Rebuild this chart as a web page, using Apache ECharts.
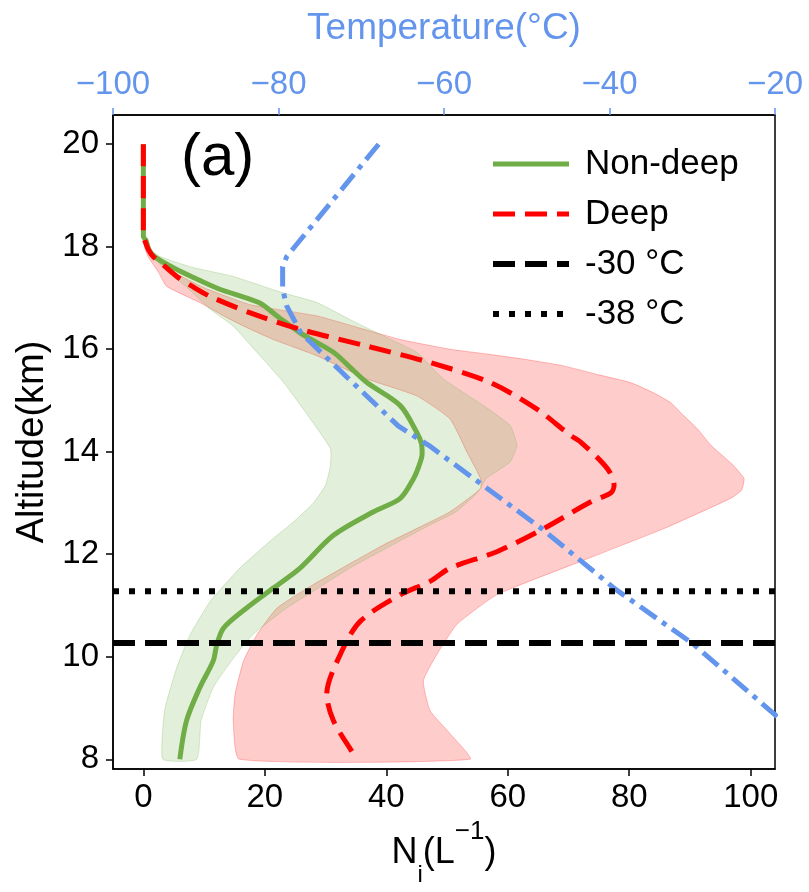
<!DOCTYPE html>
<html>
<head>
<meta charset="utf-8">
<script src="https://cdn.jsdelivr.net/npm/echarts@6/dist/echarts.min.js"></script>
<style>
  html, body { margin: 0; padding: 0; background: #fff; }
  #main { width: 809px; height: 892px; }
</style>
</head>
<body>
<div id="main"></div>
<script>
// axis ticks
const altTicks = [8, 10, 12, 14, 16, 18, 20];
const niTicks = [0, 20, 40, 60, 80, 100];
const tempTicks = [-100, -80, -60, -40, -20];

// mean profiles (Ni in L^-1 vs altitude in km)
const nonDeepAlt = [20, 18.2, 18.13, 17.95, 17.81, 17.65, 17.49, 17.33, 17.17, 16.91, 16.65, 16.32, 15.94, 15.65, 15.35, 14.9, 14.38, 14.15, 13.96, 13.7, 13.48, 13.09, 12.83, 12.37, 11.73, 11.34, 10.95, 10.56, 10.24, 9.92, 9.4, 8.75, 8.0];
const nonDeepNi = [0, 0, 0.4, 0.9, 1.8, 4.0, 6.6, 9.5, 12.6, 19.0, 22.0, 25.8, 31.3, 34.0, 36.8, 42.3, 45.0, 45.8, 45.9, 45.3, 44.5, 42.3, 37.9, 31.3, 25.8, 21.4, 17.0, 13.2, 12.1, 11.5, 9.3, 7.1, 6.0];

const deepAlt = [20, 18.2, 18.13, 17.95, 17.81, 17.62, 17.42, 17.23, 17.03, 16.71, 16.39, 16.06, 15.74, 15.35, 14.83, 14.32, 14.19, 13.67, 13.35, 13.2, 13.02, 12.5, 12.05, 11.73, 11.47, 11.21, 10.69, 10.04, 9.27, 8.75, 8.1, 8.0];
const deepNi = [0, 0, 0.2, 0.8, 1.6, 3.5, 5.5, 8.0, 11.0, 17.6, 25.8, 36.8, 47.2, 57.1, 64.8, 70.3, 72.0, 76.4, 77.5, 77.0, 73.6, 65.9, 58.2, 50.5, 47.2, 42.3, 35.7, 32.4, 30.2, 31.3, 34.6, 35.0];

// spread of the profiles (left and right edges of the shaded ranges)
const nonDeepLoAlt = [18.13, 17.95, 17.75, 17.5, 17.23, 17.0, 16.78, 16.45, 15.94, 15.35, 14.64, 14.06, 13.73, 13.35, 13.0, 12.63, 12.31, 11.73, 11.08, 10.43, 9.79, 8.95, 8.0];
const nonDeepLoNi = [0, 0.5, 2.0, 4.0, 7.0, 9.0, 11.0, 14.8, 18.7, 23.1, 27.5, 30.8, 30.8, 30.0, 28.0, 24.7, 21.4, 15.9, 11.0, 7.7, 5.5, 3.5, 3.2];
const nonDeepHiAlt = [18.13, 17.95, 17.81, 17.6, 17.42, 17.1, 16.91, 16.58, 16.26, 15.94, 15.42, 14.9, 14.51, 14.12, 13.8, 13.48, 13.2, 12.83, 12.56, 12.18, 11.73, 11.34, 10.95, 10.43, 9.92, 9.4, 8.75, 8.0];
const nonDeepHiNi = [0, 1.0, 2.7, 8.0, 14.8, 23.0, 28.6, 34.0, 39.5, 45.0, 49.4, 56.0, 60.4, 61.5, 60.4, 56.5, 55.0, 51.5, 47.0, 41.0, 34.0, 28.8, 23.6, 18.0, 14.5, 11.5, 9.5, 8.8];

const deepLoAlt = [18.13, 17.95, 17.8, 17.5, 17.23, 16.91, 16.6, 16.39, 16.19, 15.87, 15.42, 15.09, 14.64, 13.99, 13.48, 13.28, 12.83, 12.56, 12.18, 11.41, 10.95, 10.43, 9.92, 9.27, 8.75, 8.0];
const deepLoNi = [0, 0.3, 0.8, 2.5, 3.8, 9.3, 14.0, 17.6, 21.4, 28.6, 36.8, 45.0, 50.5, 53.3, 55.5, 55.5, 50.5, 46.0, 39.5, 28.0, 22.0, 18.7, 16.5, 15.1, 14.8, 15.8];
const deepHiAlt = [18.13, 17.95, 17.8, 17.5, 17.2, 16.87, 16.65, 16.4, 16.19, 16.0, 15.9, 15.8, 15.68, 15.5, 15.35, 15.15, 14.96, 14.7, 14.45, 14.12, 13.75, 13.48, 13.25, 13.09, 12.5, 11.86, 11.21, 10.63, 10.04, 9.53, 8.95, 8.5, 8.0];
const deepHiNi = [0, 0.8, 1.5, 5.0, 10.0, 17.6, 28.6, 36.0, 42.3, 50.5, 57.0, 63.0, 69.0, 75.0, 80.2, 84.0, 86.8, 89.0, 91.2, 93.5, 97.0, 98.9, 98.5, 96.7, 85.7, 72.0, 58.2, 51.6, 48.3, 46.1, 47.2, 50.5, 53.8];

// temperature profile (top axis)
const tempAlt = [20.0, 17.81, 17.61, 17.17, 16.84, 16.32, 15.42, 14.5, 14.12, 12.5, 11.32, 10.25, 8.91, 8.0];
const tempC = [-67.9, -79.0, -79.5, -79.5, -79.0, -77.3, -71.5, -65.5, -61.8, -48.2, -39.3, -29.9, -20.3, -13.7];

// isotherm altitudes
const iso30Alt = 10.27;
const iso38Alt = 11.28;

const niMin = -5, niMax = 104;
const FONT = "Liberation Sans";
const BLUE = "#6495ED";
const GREEN = "#70AD47";

const zip = (xs, ys) => xs.map((x, i) => [x, ys[i]]);
const minus = (v) => (v < 0 ? "\u2212" + Math.abs(v) : String(v));

function bandSeries(name, loNi, loAlt, hiNi, hiAlt, fill, edge) {
  return {
    name: name,
    type: "custom",
    coordinateSystem: "cartesian2d",
    silent: true,
    z: 1,
    data: [[loNi[0], loAlt[0]]],
    renderItem: (params, api) => {
      var pts = [];
      for (var i = 0; i < loNi.length; i++) pts.push(api.coord([loNi[i], loAlt[i]]));
      for (var j = hiNi.length - 1; j >= 0; j--) pts.push(api.coord([hiNi[j], hiAlt[j]]));
      return {
        type: "polygon",
        shape: { points: pts, smooth: 0.15 },
        style: { fill: fill, stroke: edge, lineWidth: 1 },
      };
    },
  };
}

var myChart = echarts.init(document.getElementById("main"));

var hideDot = { opacity: 0 };

var option = {
  animation: false,
  textStyle: { fontFamily: FONT },
  grid: {
    left: 113, right: 34, top: 115, bottom: 120,
    show: true, borderColor: "#000", borderWidth: 1.5,
  },
  legend: {
    orient: "vertical",
    left: 485,
    top: 140,
    itemWidth: 76,
    itemHeight: 14,
    itemGap: 12,
    selectedMode: false,
    textStyle: { fontSize: 35, color: "#000", fontFamily: FONT, lineHeight: 38, padding: [0, 0, 0, 11] },
    data: [
      { name: "Non-deep", itemStyle: hideDot, lineStyle: { width: 5, type: "solid" } },
      { name: "Deep", itemStyle: hideDot, lineStyle: { width: 5, type: [22, 10] } },
      { name: "-30 \u00b0C", itemStyle: hideDot, lineStyle: { width: 6, type: [22, 10] } },
      { name: "-38 \u00b0C", itemStyle: hideDot, lineStyle: { width: 6, type: [6, 10] } },
    ],
  },
  graphic: [
    {
      type: "text",
      left: 181,
      top: 128,
      style: { text: "(a)", font: "60px " + FONT, fill: "#000" },
    },
  ],
  xAxis: [
    {
      type: "value",
      position: "bottom",
      min: niMin,
      max: niMax,
      splitLine: { show: false },
      axisLine: { onZero: false, lineStyle: { color: "#000", width: 1.5 } },
      axisTick: { length: 7, lineStyle: { color: "#000", width: 1.5 }, customValues: niTicks },
      axisLabel: { fontSize: 33, color: "#000", margin: 12, customValues: niTicks },
      name: "{n|N}{s|i}{n|(L}{p|\u22121}{n|)}",
      nameLocation: "middle",
      nameGap: 50,
      nameTextStyle: {
        color: "#000",
        rich: {
          n: { fontSize: 36, lineHeight: 68, verticalAlign: "middle", fontFamily: FONT, color: "#000" },
          s: { fontSize: 24, verticalAlign: "bottom", fontFamily: FONT, color: "#000" },
          p: { fontSize: 26, verticalAlign: "top", fontFamily: FONT, color: "#000" },
        },
      },
    },
    {
      type: "value",
      position: "top",
      min: -100,
      max: -20,
      interval: 20,
      splitLine: { show: false },
      axisLine: { onZero: false, lineStyle: { color: "#000", width: 1.5 } },
      axisTick: { length: 7, lineStyle: { color: BLUE, width: 1.5 }, customValues: tempTicks },
      axisLabel: { fontSize: 33, color: BLUE, margin: 14, formatter: minus, customValues: tempTicks },
      name: "Temperature(\u00b0C)",
      nameLocation: "middle",
      nameGap: 68,
      nameTextStyle: { fontSize: 37, color: BLUE },
    },
  ],
  yAxis: {
    type: "value",
    min: 7.81,
    max: 20.57,
    splitLine: { show: false },
    axisLine: { onZero: false, lineStyle: { color: "#000", width: 1.5 } },
    axisTick: { length: 7, lineStyle: { color: "#000", width: 1.5 }, customValues: altTicks },
    axisLabel: { fontSize: 33, color: "#000", margin: 14, customValues: altTicks },
    name: "Altitude(km)",
    nameLocation: "middle",
    nameGap: 61,
    nameTextStyle: { fontSize: 38, color: "#000" },
  },
  series: [
    bandSeries("deep range", deepLoNi, deepLoAlt, deepHiNi, deepHiAlt, "rgba(255,0,0,0.2)", "rgba(255,0,0,0.25)"),
    bandSeries("non-deep range", nonDeepLoNi, nonDeepLoAlt, nonDeepHiNi, nonDeepHiAlt, "rgba(112,173,71,0.2)", "rgba(112,173,71,0.25)"),
    {
      name: "Non-deep",
      type: "line",
      z: 3,
      symbol: "none",
      smooth: 0.3,
      data: zip(nonDeepNi, nonDeepAlt),
      lineStyle: { color: GREEN, width: 5 },
      itemStyle: { color: GREEN },
    },
    {
      name: "Deep",
      type: "line",
      z: 3,
      symbol: "none",
      smooth: 0.3,
      data: zip(deepNi, deepAlt),
      lineStyle: { color: "#ff0000", width: 5, type: [22, 10] },
      itemStyle: { color: "#ff0000" },
    },
    {
      name: "Temperature",
      type: "line",
      xAxisIndex: 1,
      z: 4,
      symbol: "none",
      data: zip(tempC, tempAlt),
      lineStyle: { color: BLUE, width: 5, type: [20, 7, 5, 7] },
      itemStyle: { color: BLUE },
    },
    {
      name: "-30 \u00b0C",
      type: "line",
      z: 5,
      symbol: "none",
      data: [[niMin, iso30Alt], [niMax, iso30Alt]],
      lineStyle: { color: "#000", width: 6, type: [22, 10] },
      itemStyle: { color: "#000" },
    },
    {
      name: "-38 \u00b0C",
      type: "line",
      z: 5,
      symbol: "none",
      data: [[niMin, iso38Alt], [niMax, iso38Alt]],
      lineStyle: { color: "#000", width: 6, type: [6, 10] },
      itemStyle: { color: "#000" },
    },
  ],
};

myChart.setOption(option);
</script>
</body>
</html>
